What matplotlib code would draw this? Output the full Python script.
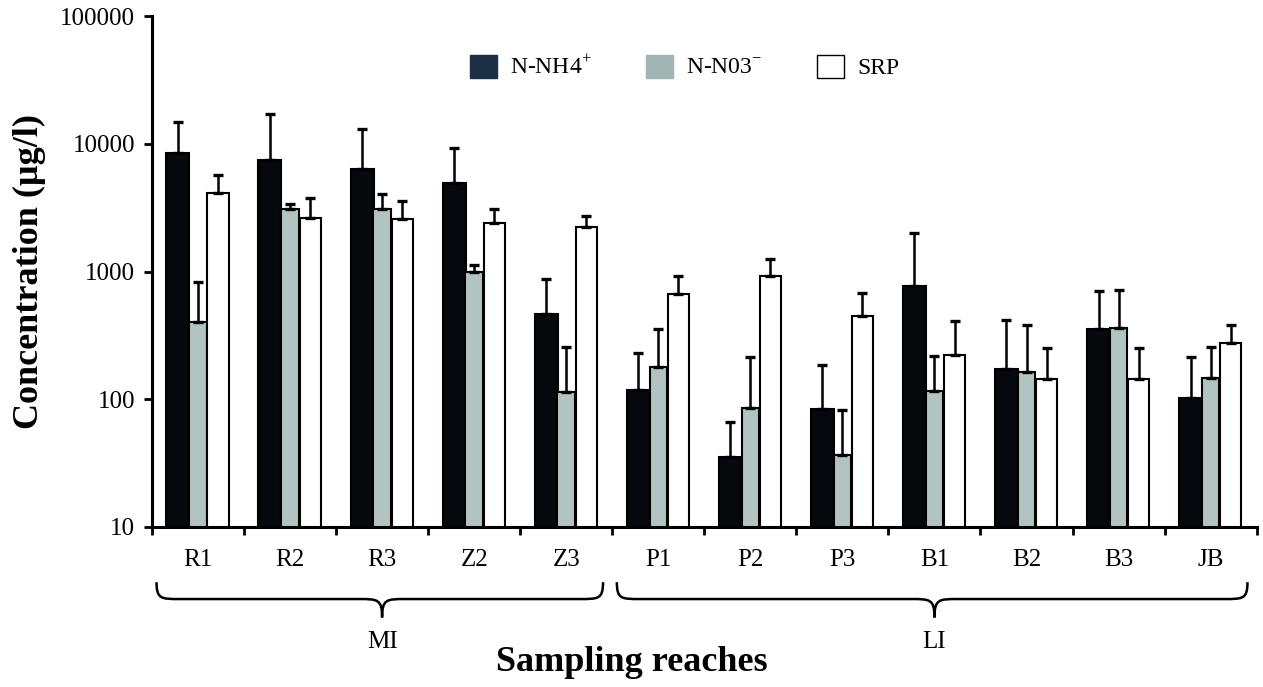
import matplotlib.pyplot as plt
import matplotlib.transforms as mtransforms
from matplotlib.patches import Patch, PathPatch
from matplotlib.path import Path
from matplotlib.ticker import FixedLocator, FixedFormatter
import numpy as np

plt.rcParams['font.family'] = ['Liberation Serif', 'DejaVu Serif']
plt.rcParams['mathtext.fontset'] = 'custom'
plt.rcParams['mathtext.rm'] = 'Liberation Serif'
plt.rcParams['mathtext.bf'] = 'Liberation Serif:bold'

reaches = ["R1", "R2", "R3", "Z2", "Z3", "P1", "P2", "P3", "B1", "B2", "B3", "JB"]
groups = [("MI", 0, 4), ("LI", 5, 11)]

# mean values (ug/l)
nh4 = [8400, 7450, 6350, 4900, 462, 118, 35, 84, 770, 172, 355, 103]
no3 = [405, 3070, 3070, 986, 113, 180, 85, 36.6, 115, 164, 359, 146]
srp = [4140, 2610, 2580, 2380, 2230, 667, 927, 451, 222, 144, 144, 277]

# top of error bars
nh4_top = [14900, 17100, 13000, 9300, 873, 232, 66, 185, 1990, 417, 704, 215]
no3_top = [832, 3380, 4050, 1120, 255, 353, 213, 83, 219, 381, 716, 255]
srp_top = [5690, 3740, 3560, 3070, 2740, 922, 1260, 675, 410, 253, 253, 381]

series = [
    ("N-NH4$^{+}$", nh4, nh4_top, "#05080c", "#1b3045", -0.218, 0.25),
    ("N-N03$^{-}$", no3, no3_top, "#b2c4c2", "#a0b5b3", 0.0, 0.19),
    ("SRP", srp, srp_top, "white", "white", 0.218, 0.23),
]

fig = plt.figure(figsize=(12.63, 6.87), dpi=100)
ax = fig.add_axes([0.1203, 0.2329, 0.8747, 0.7438])

x = np.arange(len(reaches))
handles = []
for label, vals, tops, color, legcolor, off, w in series:
    vals = np.array(vals, dtype=float)
    tops = np.array(tops, dtype=float)
    ax.bar(x + off, vals, width=w, color=color, edgecolor="black",
           linewidth=1.5, zorder=2)
    ax.errorbar(x + off, vals, yerr=[np.zeros_like(vals), tops - vals],
                fmt="none", ecolor="black", elinewidth=1.8, capsize=3.6,
                capthick=2.4, zorder=3)
    handles.append(Patch(facecolor=legcolor, edgecolor="black" if color == "white" else legcolor,
                         linewidth=1.0, label=label))

ax.set_yscale("log")
ax.set_ylim(10, 100000)
ax.set_xlim(-0.5, len(reaches) - 0.5)

yt = [10, 100, 1000, 10000, 100000]
ax.yaxis.set_major_locator(FixedLocator(yt))
ax.yaxis.set_major_formatter(FixedFormatter([str(v) for v in yt]))
ax.yaxis.set_minor_locator(FixedLocator([]))

ax.set_xticks(np.arange(len(reaches) + 1) - 0.5)
ax.set_xticklabels([])
ax.set_xticks(x, minor=True)
ax.set_xticklabels(reaches, minor=True, fontsize=18)

ax.tick_params(axis="x", which="major", direction="out", length=6, width=2)
ax.tick_params(axis="x", which="minor", length=0, pad=16)
ax.tick_params(axis="y", which="major", direction="out", length=6, width=2,
               labelsize=18, pad=6)

for s in ["top", "right"]:
    ax.spines[s].set_visible(False)
for s in ["left", "bottom"]:
    ax.spines[s].set_linewidth(2.2)

ax.set_ylabel("Concentration (\u00b5g/l)", fontsize=26, fontweight="bold", labelpad=10)

# group braces under the reach labels
trans = mtransforms.blended_transform_factory(ax.transData, ax.transAxes)
y_end, y_mid, y_tip = -0.108, -0.141, -0.177
for name, i0, i1 in groups:
    x0 = i0 - 0.45
    x1 = i1 + 0.40
    xc = (i0 + i1) / 2.0
    c = 0.25
    verts = [
        (x0, y_end),
        (x0, y_mid), (x0 + c * 0.2, y_mid), (x0 + c, y_mid),
        (xc - c, y_mid),
        (xc - c * 0.2, y_mid), (xc, y_mid), (xc, y_tip),
        (xc, y_mid), (xc + c * 0.2, y_mid), (xc + c, y_mid),
        (x1 - c, y_mid),
        (x1 - c * 0.2, y_mid), (x1, y_mid), (x1, y_end),
    ]
    codes = [Path.MOVETO,
             Path.CURVE4, Path.CURVE4, Path.CURVE4,
             Path.LINETO,
             Path.CURVE4, Path.CURVE4, Path.CURVE4,
             Path.CURVE4, Path.CURVE4, Path.CURVE4,
             Path.LINETO,
             Path.CURVE4, Path.CURVE4, Path.CURVE4]
    ax.add_patch(PathPatch(Path(verts, codes), facecolor="none", edgecolor="black",
                           linewidth=1.8, transform=trans, clip_on=False))
    ax.text(xc, -0.225, name, transform=trans, ha="center", va="center", fontsize=18)

fig.text(0.5, 0.035, "Sampling reaches", ha="center", va="center",
         fontsize=26, fontweight="bold")

ax.legend(handles=handles, loc="center", bbox_to_anchor=(0.482, 0.9), ncol=3,
          frameon=False, fontsize=17, handlelength=1.15, handleheight=1.15,
          handletextpad=0.55, columnspacing=2.3)

fig.savefig("out.png", dpi=100)
